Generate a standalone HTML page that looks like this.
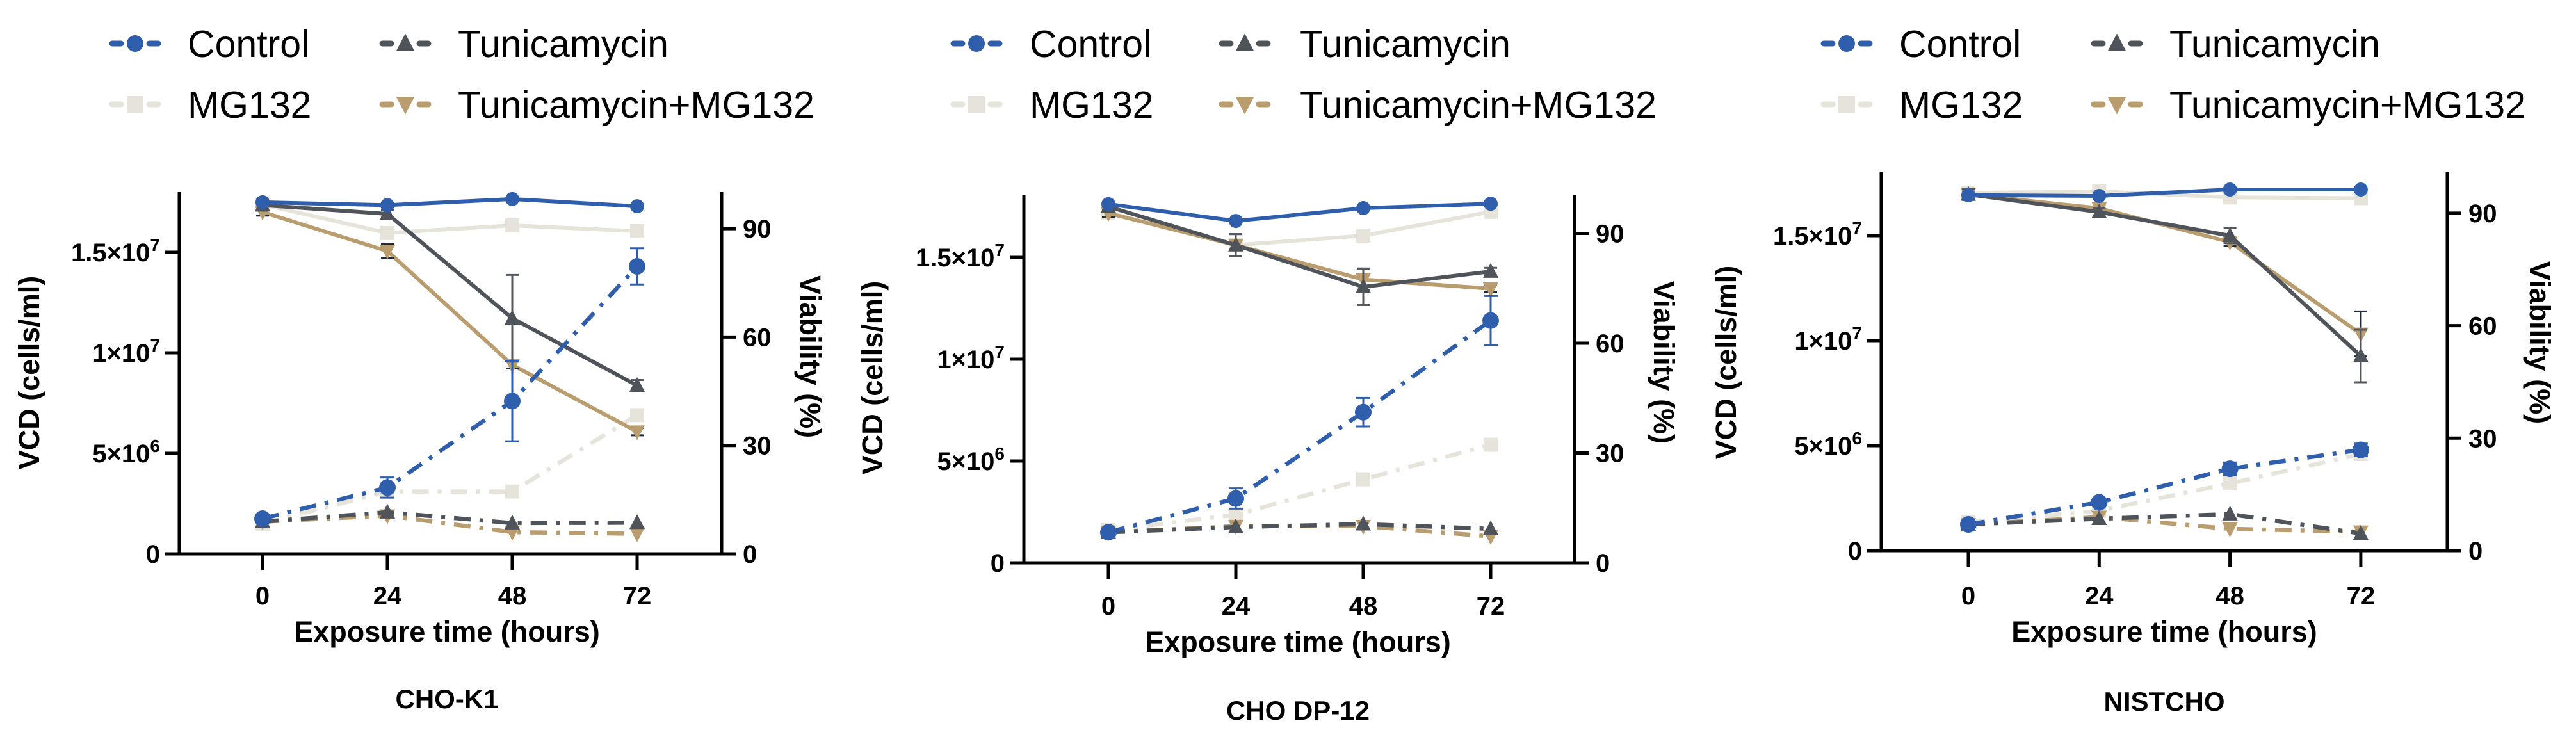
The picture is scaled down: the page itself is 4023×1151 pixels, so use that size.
<!DOCTYPE html>
<html><head><meta charset="utf-8"><style>
html,body{margin:0;padding:0;background:#fff;}
svg{display:block;font-family:"Liberation Sans",Arial,sans-serif;}
</style></head><body>
<svg id="fig" width="4023" height="1151" viewBox="0 0 4023 1151" xmlns="http://www.w3.org/2000/svg"></svg>
<script>
const hours=[0,24,48,72];
const seriesNames=["Control","MG132","Tunicamycin","Tunicamycin+MG132"];
const panelTitles=["CHO-K1","CHO DP-12","NISTCHO"];
const leftTickValues=[0,5e6,1e7,1.5e7];
const leftTickMant=["0","5×10","1×10","1.5×10"];
const leftTickExp=["","6","7","7"];
const rightTickValues=[0,30,60,90];
// CHO-K1
const k1VcdControl=[1.75e6,3.3e6,7.6e6,1.43e7];
const k1VcdMG132=[1.5e6,3.1e6,3.1e6,6.9e6];
const k1VcdTun=[1.6e6,2.07e6,1.53e6,1.55e6];
const k1VcdTM=[1.6e6,1.9e6,1.08e6,1.0e6];
const k1ViaControl=[97.3,96.5,98.2,96.2];
const k1ViaMG132=[96.7,88.8,90.9,89.3];
const k1ViaTun=[96.5,94.1,65.2,46.6];
const k1ViaTM=[94.6,83.8,52.3,33.8];
const k1VcdControlErr=[0.15e6,0.5e6,2.0e6,0.9e6];
const k1ViaTunErr=[1.5,1,12,1.5];
const k1ViaTMErr=[1,2,1,1];
// CHO DP-12
const dpVcdControl=[1.5e6,3.16e6,7.4e6,1.19e7];
const dpVcdMG132=[1.6e6,2.36e6,4.1e6,5.8e6];
const dpVcdTun=[1.5e6,1.76e6,1.9e6,1.67e6];
const dpVcdTM=[1.5e6,1.8e6,1.8e6,1.3e6];
const dpViaControl=[98,93.4,96.9,98.1];
const dpViaMG132=[95.7,86.8,89.4,95.9];
const dpViaTun=[97.3,86.8,75.4,79.6];
const dpViaTM=[95.5,86.8,77.4,74.9];
const dpVcdControlErr=[0.1e6,0.5e6,0.7e6,1.2e6];
const dpViaTunErr=[1,3,5,1];
const dpViaTMErr=[1,3,3,1];
// NISTCHO
const niVcdControl=[1.25e6,2.3e6,3.9e6,4.8e6];
const niVcdMG132=[1.35e6,1.9e6,3.2e6,4.6e6];
const niVcdTun=[1.25e6,1.52e6,1.74e6,0.82e6];
const niVcdTM=[1.25e6,1.6e6,1.04e6,0.9e6];
const niViaControl=[94.8,94.6,96.3,96.3];
const niViaMG132=[95.4,95.8,94.2,94];
const niViaTun=[95,90.3,84,51.9];
const niViaTM=[95,91.3,82.3,57.8];
const niVcdControlErr=[0.1e6,0.1e6,0.3e6,0.3e6];
const niViaTunErr=[1.5,1,2,7];
const niViaTMErr=[1,1,1,6];

const NS="http://www.w3.org/2000/svg";
const svg=document.getElementById('fig');
function mk(tag,attrs,parent){const e=document.createElementNS(NS,tag);for(const k in attrs)e.setAttribute(k,attrs[k]);(parent||svg).appendChild(e);return e;}
const colors={"Control":"#2f5ead","MG132":"#e6e3da","Tunicamycin":"#4f545b","Tunicamycin+MG132":"#b99d6f"};
const shapes={"Control":"circle","MG132":"square","Tunicamycin":"up","Tunicamycin+MG132":"down"};
function marker(g,shape,cx,cy,s,color){
  let el;
  if(shape==="circle")el=mk('circle',{cx:cx,cy:cy,r:s,fill:color},g);
  else if(shape==="square")el=mk('rect',{x:cx-s,y:cy-s,width:2*s,height:2*s,fill:color},g);
  else if(shape==="up")el=mk('polygon',{points:`${cx},${cy-s*1.2} ${cx-s*1.1},${cy+s*0.9} ${cx+s*1.1},${cy+s*0.9}`,fill:color},g);
  else el=mk('polygon',{points:`${cx},${cy+s*1.2} ${cx-s*1.1},${cy-s*0.9} ${cx+s*1.1},${cy-s*0.9}`,fill:color},g);
  return el;
}
const panels=[
 {x0:410,dx:195,left:280,right:1127,y0:865,top:300,lpx:157,rpx:169.3,legM2:633,legT2:715,legM1:211,legT1:293,
  vcd:[k1VcdControl,k1VcdMG132,k1VcdTun,k1VcdTM],via:[k1ViaControl,k1ViaMG132,k1ViaTun,k1ViaTM],
  vcdErr0:k1VcdControlErr,viaErr2:k1ViaTunErr,viaErr3:k1ViaTMErr,
  tickY:930,titleY:1002,subY:1106,cx:698,ltx:45,lty:582,rtx:1266,rty:557},
 {x0:1731,dx:199,left:1599,right:2459,y0:879,top:304,lpx:159,rpx:171.5,legM1:1525,legT1:1608,legM2:1944,legT2:2030,
  vcd:[dpVcdControl,dpVcdMG132,dpVcdTun,dpVcdTM],via:[dpViaControl,dpViaMG132,dpViaTun,dpViaTM],
  vcdErr0:dpVcdControlErr,viaErr2:dpViaTunErr,viaErr3:dpViaTMErr,
  tickY:946,titleY:1018,subY:1124,cx:2027,ltx:1362,lty:590,rtx:2599,rty:566},
 {x0:3074,dx:204.3,left:2938,right:3822,y0:860,top:269,lpx:164,rpx:175.7,legM1:2884,legT1:2966,legM2:3306,legT2:3388,
  vcd:[niVcdControl,niVcdMG132,niVcdTun,niVcdTM],via:[niViaControl,niViaMG132,niViaTun,niViaTM],
  vcdErr0:niVcdControlErr,viaErr2:niViaTunErr,viaErr3:niViaTMErr,
  tickY:930,titleY:1002,subY:1110,cx:3380,ltx:2695,lty:566,rtx:3967,rty:535}
];
const drawOrder=[1,3,2,0];
panels.forEach((p,pi)=>{
  const g=mk('g',{});
  
  
  const xs=h=>p.x0+h/24*p.dx;
  const yl=v=>p.y0-v/5e6*p.lpx;
  const yr=v=>p.y0-v/30*p.rpx;
  const leg=mk('g',{},g);
  
  
  const legPos=[[p.legM1,p.legT1,68],[p.legM1,p.legT1,163],[p.legM2,p.legT2,68],[p.legM2,p.legT2,163]];
  seriesNames.forEach((n,i)=>{
    const [mx,tx,cy]=legPos[i];const c=colors[n];
    const le=mk('g',{},leg);
    
    
    mk('line',{x1:mx-36,y1:cy,x2:mx-22,y2:cy,stroke:c,'stroke-width':9,'stroke-linecap':'round'},le);
    mk('line',{x1:mx+22,y1:cy,x2:mx+36,y2:cy,stroke:c,'stroke-width':9,'stroke-linecap':'round'},le);
    marker(le,shapes[n],mx,cy,13,c);
    const t=mk('text',{x:tx,y:cy+21,'font-size':59,fill:'#000'},le);t.textContent=n;
  });
  const ax=mk('g',{stroke:'#000','stroke-width':5,fill:'none'},g);
  
  
  mk('line',{x1:p.left,y1:p.top,x2:p.left,y2:p.y0+2},ax);
  mk('line',{x1:p.right,y1:p.top,x2:p.right,y2:p.y0+2},ax);
  mk('line',{x1:p.left-22,y1:p.y0,x2:p.right+22,y2:p.y0},ax);
  leftTickValues.forEach((v,i)=>{
    mk('line',{x1:p.left-22,y1:yl(v),x2:p.left,y2:yl(v)},ax);
    const t=mk('text',{x:p.left-30,y:yl(v)+14,'font-size':40,'font-weight':'bold','text-anchor':'end',fill:'#000',stroke:'none'},g);
    
    
    t.textContent=leftTickMant[i];
    if(leftTickExp[i]){const s=mk('tspan',{dy:-16,'font-size':28},t);s.textContent=leftTickExp[i];}
  });
  rightTickValues.forEach(v=>{
    mk('line',{x1:p.right,y1:yr(v),x2:p.right+22,y2:yr(v)},ax);
    const t=mk('text',{x:p.right+33,y:yr(v)+14,'font-size':40,'font-weight':'bold',fill:'#000',stroke:'none'},g);
    
    
    t.textContent=v;
  });
  hours.forEach(h=>{
    mk('line',{x1:xs(h),y1:p.y0,x2:xs(h),y2:p.y0+25},ax);
    const t=mk('text',{x:xs(h),y:p.tickY+14,'font-size':40,'font-weight':'bold','text-anchor':'middle',fill:'#000'},g);
    
    
    t.textContent=h;
  });
  const xt=mk('text',{x:p.cx,y:p.titleY,'font-size':45,'font-weight':'bold','text-anchor':'middle',fill:'#000'},g);
  
  
  xt.textContent='Exposure time (hours)';
  const st=mk('text',{x:p.cx,y:p.subY,'font-size':42,'font-weight':'bold','text-anchor':'middle',fill:'#000'},g);
  
  
  st.textContent=panelTitles[pi];
  const lt=mk('text',{x:0,y:0,'font-size':45,'font-weight':'bold','text-anchor':'middle',fill:'#000',transform:`translate(${p.ltx+16},${p.lty}) rotate(-90)`},g);
  
  
  lt.textContent='VCD (cells/ml)';
  const rt=mk('text',{x:0,y:0,'font-size':45,'font-weight':'bold','text-anchor':'middle',fill:'#000',transform:`translate(${p.rtx-16},${p.rty}) rotate(90)`},g);
  
  
  rt.textContent='Viability (%)';
  drawOrder.forEach(si=>{
    const n=seriesNames[si];const c=colors[n];const slug=n.toLowerCase().replace(/[^a-z0-9]+/g,'-');
    const errV=si===0?p.vcdErr0:null;
    const errR=si===2?p.viaErr2:(si===3?p.viaErr3:null);
    const sg=mk('g',{},g);
    
    
    mk('polyline',{points:hours.map((h,i)=>xs(h)+','+yr(p.via[si][i])).join(' '),fill:'none',stroke:c,'stroke-width':6,'stroke-linejoin':'round'},sg);
    hours.forEach((h,i)=>{
      if(errR){const e=errR[i];const ec=si===2?'#55595f':'#1f2a40';
        mk('line',{x1:xs(h),y1:yr(p.via[si][i]-e),x2:xs(h),y2:yr(p.via[si][i]+e),stroke:ec,'stroke-width':3},sg);
        mk('line',{x1:xs(h)-10,y1:yr(p.via[si][i]-e),x2:xs(h)+10,y2:yr(p.via[si][i]-e),stroke:ec,'stroke-width':3},sg);
        mk('line',{x1:xs(h)-10,y1:yr(p.via[si][i]+e),x2:xs(h)+10,y2:yr(p.via[si][i]+e),stroke:ec,'stroke-width':3},sg);}
      const m=marker(sg,shapes[n],xs(h),yr(p.via[si][i]),11,c);
      
      
    });
    const vg=mk('g',{},g);
    
    
    mk('polyline',{points:hours.map((h,i)=>xs(h)+','+yl(p.vcd[si][i])).join(' '),fill:'none',stroke:c,'stroke-width':6.5,'stroke-dasharray':'26 14 6 14'},vg);
    hours.forEach((h,i)=>{
      if(errV){const e=errV[i];
        mk('line',{x1:xs(h),y1:yl(p.vcd[si][i]-e),x2:xs(h),y2:yl(p.vcd[si][i]+e),stroke:c,'stroke-width':3},vg);
        mk('line',{x1:xs(h)-11,y1:yl(p.vcd[si][i]-e),x2:xs(h)+11,y2:yl(p.vcd[si][i]-e),stroke:c,'stroke-width':3},vg);
        mk('line',{x1:xs(h)-11,y1:yl(p.vcd[si][i]+e),x2:xs(h)+11,y2:yl(p.vcd[si][i]+e),stroke:c,'stroke-width':3},vg);}
      const m=marker(vg,shapes[n],xs(h),yl(p.vcd[si][i]),si===0?13:11,c);
      
      
    });
  });
});
</script>
</body></html>
